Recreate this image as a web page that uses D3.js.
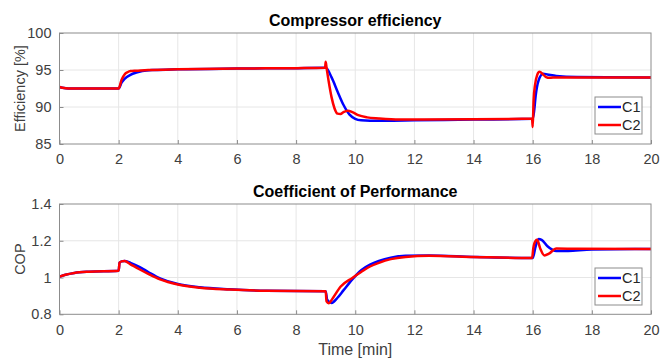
<!DOCTYPE html>
<html>
<head>
<meta charset="utf-8">
<script src="https://cdn.jsdelivr.net/npm/d3@7"></script>
<style>
  body { margin: 0; background: #fff; }
  svg { display: block; font-family: Arial, "Liberation Sans", sans-serif; }
</style>
</head>
<body>
<svg width="660" height="358"></svg>
<script>
// time ticks shared by both panels
const xTicks = [0, 2, 4, 6, 8, 10, 12, 14, 16, 18, 20];

// efficiency panel
const effTicks = [85, 90, 95, 100];
const effC1T = [0, 0.1, 0.3, 2.0, 2.1, 2.2, 2.4, 2.6, 2.8, 3.2, 4, 6, 8, 9.0, 9.2, 9.4, 9.6, 9.8, 10.0, 10.2, 10.5, 11, 12, 14, 16.0, 16.05, 16.1, 16.2, 16.35, 16.5, 16.8, 17.5, 20];
const effC1 = [92.7, 92.6, 92.5, 92.5, 93.3, 93.8, 94.35, 94.65, 94.85, 95.0, 95.1, 95.2, 95.25, 95.3, 94.0, 92.1, 90.3, 89.0, 88.4, 88.2, 88.15, 88.15, 88.2, 88.3, 88.4, 89.5, 91.5, 93.6, 94.5, 94.4, 94.2, 94.05, 94.0];
const effC2T = [0, 0.1, 0.3, 2.0, 2.1, 2.2, 2.3, 2.4, 2.6, 3, 4, 6, 8, 8.98, 9.0, 9.03, 9.1, 9.2, 9.3, 9.4, 9.5, 9.6, 9.75, 9.9, 10.1, 10.4, 10.8, 11.5, 12, 14, 15.98, 16.0, 16.03, 16.08, 16.15, 16.23, 16.35, 16.45, 16.57, 16.8, 17.5, 20];
const effC2 = [92.7, 92.6, 92.5, 92.5, 93.7, 94.4, 94.7, 94.85, 94.9, 95.0, 95.1, 95.2, 95.25, 95.3, 96.1, 95.3, 93.5, 91.3, 89.8, 89.1, 89.05, 89.3, 89.5, 89.3, 88.9, 88.6, 88.45, 88.3, 88.3, 88.35, 88.4, 87.3, 90.9, 93.0, 94.3, 94.75, 94.4, 94.05, 93.95, 94.0, 94.0, 94.0];

// COP panel
const copTicks = [0.8, 1, 1.2, 1.4];
const copC1T = [0, 0.2, 0.5, 1, 2.0, 2.03, 2.1, 2.2, 2.4, 2.7, 3.0, 3.4, 4, 4.75, 5.75, 7, 9.0, 9.05, 9.2, 9.4, 9.6, 9.9, 10.2, 10.5, 10.8, 11.2, 11.7, 12.5, 14, 16.0, 16.1, 16.2, 16.3, 16.5, 16.8, 17.2, 18, 20];
const copC1 = [1.005, 1.015, 1.025, 1.032, 1.037, 1.08, 1.088, 1.09, 1.08, 1.058, 1.03, 0.995, 0.965, 0.947, 0.936, 0.928, 0.925, 0.88, 0.862, 0.89, 0.93, 0.99, 1.04, 1.07, 1.09, 1.108, 1.118, 1.12, 1.112, 1.106, 1.17, 1.21, 1.205, 1.17, 1.144, 1.145, 1.152, 1.155];
const copC2T = [0, 0.2, 0.5, 1, 2.0, 2.03, 2.1, 2.2, 2.4, 2.7, 3.0, 3.4, 4, 4.75, 5.75, 7, 9.0, 9.03, 9.1, 9.25, 9.5, 9.9, 10.2, 10.5, 10.8, 11.2, 11.7, 12.5, 14, 15.98, 16.02, 16.1, 16.15, 16.25, 16.4, 16.55, 16.8, 17.5, 20];
const copC2 = [1.005, 1.015, 1.025, 1.032, 1.037, 1.08, 1.088, 1.09, 1.072, 1.045, 1.02, 0.99, 0.962, 0.945, 0.935, 0.928, 0.925, 0.87, 0.86, 0.89, 0.95, 0.998, 1.03, 1.06, 1.08, 1.1, 1.112, 1.118, 1.112, 1.106, 1.16, 1.2, 1.205, 1.16, 1.12, 1.13, 1.158, 1.156, 1.155];

const seriesNames = ["C1", "C2"];
const seriesColors = ["#0000ff", "#ff0000"];

const svg = d3.select("svg");
const left = 59.5, right = 651;

function zip(t, v) { return t.map((d, i) => [d, v[i]]); }

function drawPanel(opt) {
    const x = d3.scaleLinear().domain([0, 20]).range([left, right]);
    const y = d3.scaleLinear().domain(opt.domain).range([opt.bottom, opt.top]);
    const g = svg.append("g");

    // grid
    g.append("g").selectAll("line").data(xTicks.slice(1, -1)).enter().append("line")
        .attr("x1", d => x(d)).attr("x2", d => x(d))
        .attr("y1", opt.top).attr("y2", opt.bottom)
        .attr("stroke", "#e6e6e6").attr("stroke-width", 1);
    g.append("g").selectAll("line").data(opt.yTicks.slice(1, -1)).enter().append("line")
        .attr("x1", left).attr("x2", right)
        .attr("y1", d => y(d)).attr("y2", d => y(d))
        .attr("stroke", "#e6e6e6").attr("stroke-width", 1);

    // axes
    const xAxis = d3.axisBottom(x).tickValues(xTicks).tickSizeInner(-4).tickSizeOuter(0).tickPadding(10);
    const yAxis = d3.axisLeft(y).tickValues(opt.yTicks).tickSizeInner(-4).tickSizeOuter(0).tickPadding(8).tickFormat(d3.format("~g"));
    const ax = g.append("g").attr("transform", `translate(0,${opt.bottom})`).call(xAxis);
    const ay = g.append("g").attr("transform", `translate(${left},0)`).call(yAxis);
    [ax, ay].forEach(a => {
        a.select(".domain").remove();
        a.selectAll("line").attr("stroke", "#8c8c8c");
        a.selectAll("text").attr("fill", "#404040").style("font-size", "14.5px");
    });

    // lines
    const line = d3.line().x(d => x(d[0])).y(d => y(d[1])).curve(d3.curveMonotoneX);
    opt.series.forEach((s, i) => {
        g.append("path").datum(s)
            .attr("fill", "none").attr("stroke", seriesColors[i])
            .attr("stroke-width", 2.5).attr("stroke-linejoin", "round")
            .attr("d", line);
    });

    // box
    g.append("rect").attr("x", left).attr("y", opt.top)
        .attr("width", right - left).attr("height", opt.bottom - opt.top)
        .attr("fill", "none").attr("stroke", "#8c8c8c").attr("stroke-width", 1);

    // title
    g.append("text").attr("x", (left + right) / 2).attr("y", opt.top - 7)
        .attr("text-anchor", "middle").style("font-size", "16px").style("font-weight", "bold")
        .attr("fill", "#000").text(opt.title);

    // y label
    g.append("text")
        .attr("transform", `translate(25,${(opt.top + opt.bottom) / 2}) rotate(-90)`)
        .attr("text-anchor", "middle").style("font-size", "14.5px").attr("fill", "#404040")
        .text(opt.ylabel);

    // legend
    const lg = g.append("g").attr("transform", `translate(595,${opt.legendTop})`);
    lg.append("rect").attr("width", 47).attr("height", 37)
        .attr("fill", "#fff").attr("stroke", "#8c8c8c").attr("stroke-width", 1);
    seriesNames.forEach((n, i) => {
        const yy = 10 + i * 18;
        lg.append("line").attr("x1", 3).attr("x2", 26).attr("y1", yy).attr("y2", yy)
            .attr("stroke", seriesColors[i]).attr("stroke-width", 2.5);
        lg.append("text").attr("x", 27).attr("y", yy + 5).style("font-size", "14.5px")
            .attr("fill", "#262626").text(n);
    });
}

drawPanel({
    top: 33, bottom: 144, domain: [85, 100], yTicks: effTicks,
    series: [zip(effC1T, effC1), zip(effC2T, effC2)],
    title: "Compressor efficiency", ylabel: "Efficiency [%]", legendTop: 97
});

drawPanel({
    top: 204, bottom: 314.3, domain: [0.8, 1.4], yTicks: copTicks,
    series: [zip(copC1T, copC1), zip(copC2T, copC2)],
    title: "Coefficient of Performance", ylabel: "COP", legendTop: 268
});

svg.append("text").attr("x", (left + right) / 2).attr("y", 355)
    .attr("text-anchor", "middle").style("font-size", "16px").attr("fill", "#404040")
    .text("Time [min]");
</script>
</body>
</html>
